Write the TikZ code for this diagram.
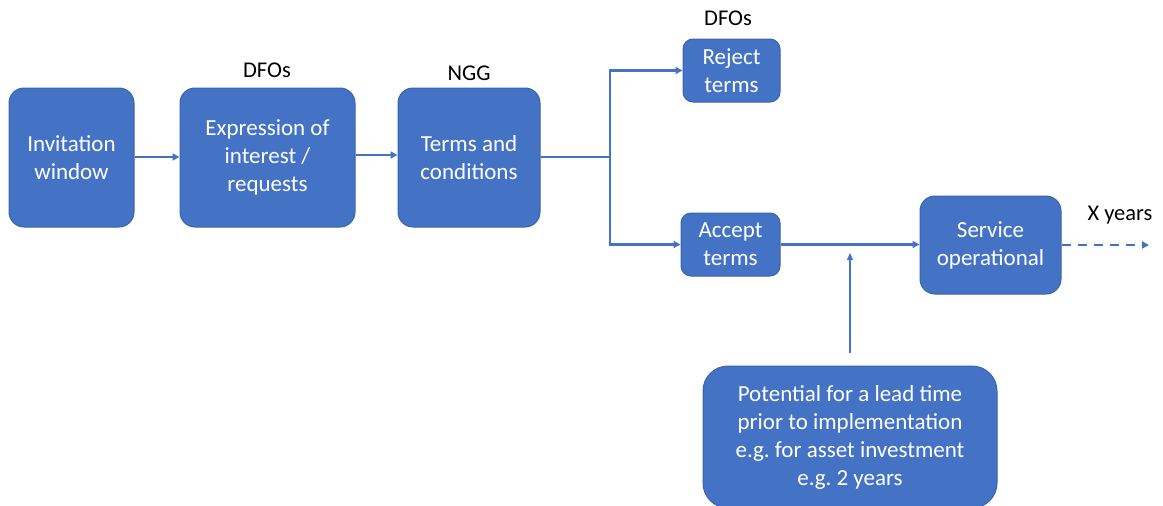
\documentclass[tikz,border=0pt]{standalone}
\usepackage{fontspec}
\setmainfont{Carlito}
\usetikzlibrary{arrows.meta}
\definecolor{boxblue}{HTML}{4472C4}
\definecolor{boxedge}{HTML}{3A64B0}
\frenchspacing
\begin{document}
\begin{tikzpicture}[x=1pt,y=-1pt,
  stage/.style={draw=boxedge, line width=1pt, fill=boxblue, rounded corners=#1,
    text=white, align=center, inner sep=0pt,
    font=\fontsize{23}{28}\selectfont},
  stage/.default=15pt,
  tag/.style={font=\fontsize{22.5}{26}\selectfont, text=black},
  flow/.style={draw=boxblue, line width=2.5pt, -{Triangle[length=7pt,width=7pt]}},
  plain/.style={draw=boxblue, line width=2.5pt},
  thin/.style={draw=boxblue, line width=1.3pt, -{Triangle[length=7pt,width=6pt]}}
]
\useasboundingbox (0,0) rectangle (1163,506);

% process boxes
\node[stage, minimum width=125pt, minimum height=139pt] (inv) at (71.5,157.5) {Invitation\\window};
\node[stage, minimum width=175pt, minimum height=139pt] (eoi) at (267.5,157.5) {Expression of\\interest /\\requests};
\node[stage, minimum width=142pt, minimum height=139pt] (tc) at (469,157.5) {Terms and\\conditions};
\node[stage=10pt, minimum width=97pt, minimum height=63pt] (rej) at (731.5,70.5) {Reject\\terms};
\node[stage=10pt, minimum width=99pt, minimum height=63pt] (acc) at (730.5,244.5) {Accept\\terms};
\node[stage, minimum width=141pt, minimum height=98pt] (svc) at (990.5,245) {Service\\operational};
\node[stage=25pt, minimum width=294pt, minimum height=142pt] (lead) at (850,437) {Potential for a lead time\\prior to implementation\\e.g. for asset investment\\e.g. 2 years};

% actor labels
\node[tag] (l1) at (267,70) {DFOs};
\node[tag] (l2) at (469,73) {NGG};
\node[tag] (l3) at (728,18) {DFOs};
\node[tag] (l4) at (1120,215) {X years};

% connectors
\coordinate (split) at (610,157);
\coordinate (lt) at (850,353);
\coordinate (lh) at (850,253);
\coordinate (end) at (1149,245);

\draw[flow] (inv.east |- 0,157) -- (eoi.west |- 0,157);
\draw[flow] (eoi.east |- 0,155) -- (tc.west |- 0,155);
\draw[plain] (tc.east |- split) -- (split);
\draw[flow] (split) |- (rej.west);
\draw[flow] (split) |- (acc.west);
\draw[flow] (acc.east) -- (svc.west |- acc.east);
\draw[thin] (lt) -- (lh);
\draw[flow, dash pattern=on 9pt off 7pt] (svc.east) -- (end);
\end{tikzpicture}
\end{document}
